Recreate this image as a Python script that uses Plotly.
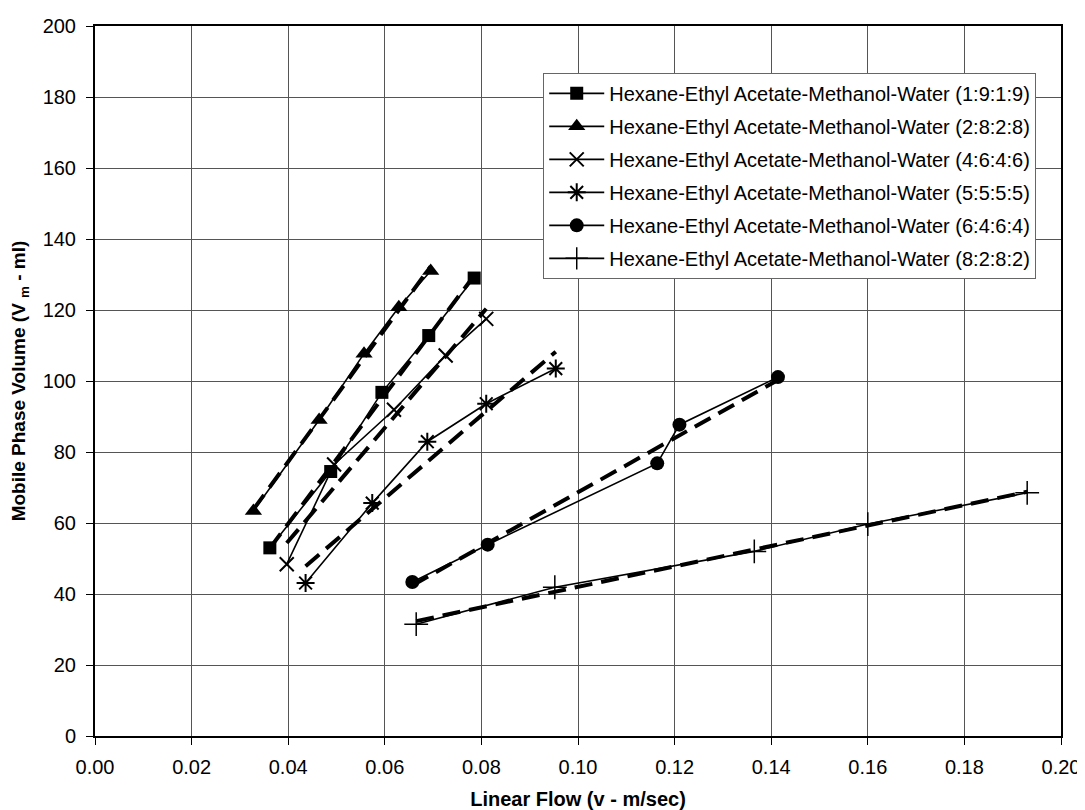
import numpy as np
import plotly.graph_objects as go

# ---- data ----
names = [
    "Hexane-Ethyl Acetate-Methanol-Water (1:9:1:9)",
    "Hexane-Ethyl Acetate-Methanol-Water (2:8:2:8)",
    "Hexane-Ethyl Acetate-Methanol-Water (4:6:4:6)",
    "Hexane-Ethyl Acetate-Methanol-Water (5:5:5:5)",
    "Hexane-Ethyl Acetate-Methanol-Water (6:4:6:4)",
    "Hexane-Ethyl Acetate-Methanol-Water (8:2:8:2)",
]
x_1919 = [0.0362, 0.0488, 0.0594, 0.0691, 0.0785]
y_1919 = [53.0, 74.5, 96.8, 112.8, 129.0]
x_2828 = [0.0328, 0.0464, 0.0557, 0.0629, 0.0695]
y_2828 = [63.4, 89.0, 107.7, 120.8, 131.0]
x_4646 = [0.0397, 0.0495, 0.0619, 0.0726, 0.0810]
y_4646 = [48.4, 76.5, 91.9, 107.2, 117.5]
x_5555 = [0.0436, 0.0574, 0.0688, 0.0810, 0.0954]
y_5555 = [43.1, 65.6, 82.9, 93.6, 103.5]
x_6464 = [0.0657, 0.0813, 0.1164, 0.1210, 0.1414]
y_6464 = [43.4, 53.9, 76.8, 87.7, 101.1]
x_8282 = [0.0665, 0.0952, 0.1365, 0.1600, 0.1930]
y_8282 = [31.5, 41.9, 52.0, 59.7, 68.5]

xs = [x_1919, x_2828, x_4646, x_5555, x_6464, x_8282]
ys = [y_1919, y_2828, y_4646, y_5555, y_6464, y_8282]

x_ticks = [0.00, 0.02, 0.04, 0.06, 0.08, 0.10, 0.12, 0.14, 0.16, 0.18, 0.20]
y_ticks = [0, 20, 40, 60, 80, 100, 120, 140, 160, 180, 200]

# ---- styles ----
markers = [
    dict(symbol="square", size=13, color="black"),
    dict(symbol="triangle-up", size=15, color="black"),
    dict(symbol="x-thin-open", size=14, color="black", line=dict(width=2, color="black")),
    dict(symbol="asterisk-open", size=15, color="black", line=dict(width=2, color="black")),
    dict(symbol="circle", size=14, color="black"),
    dict(symbol="cross-thin-open", size=17, color="black", line=dict(width=1.5, color="black")),
]

FONT = "Liberation Sans, Arial, sans-serif"
fig = go.Figure()

for i, (xv, yv) in enumerate(zip(xs, ys)):
    # linear trendline (dashed)
    a, b = np.polyfit(xv, yv, 1)
    xt = [min(xv), max(xv)]
    yt = [a * v + b for v in xt]
    fig.add_trace(go.Scatter(
        x=xt, y=yt, mode="lines", showlegend=False, hoverinfo="skip",
        line=dict(color="black", width=4, dash="18px,9px"),
    ))

for i, (xv, yv) in enumerate(zip(xs, ys)):
    fig.add_trace(go.Scatter(
        x=xv, y=yv, mode="lines+markers", name=names[i], legendgroup=f"g{i}",
        line=dict(color="black", width=1.6), marker=markers[i],
    ))

axis_common = dict(
    showline=True, mirror=True, linecolor="black", linewidth=2,
    showgrid=True, gridcolor="#555555", gridwidth=1,
    ticks="outside", ticklen=7, tickcolor="black", tickwidth=1,
    zeroline=False, automargin=False,
    tickfont=dict(family=FONT, size=20, color="black"),
)

fig.update_layout(
    width=1077, height=802,
    margin=dict(l=87, r=24, t=18, b=74, autoexpand=False),
    paper_bgcolor="white", plot_bgcolor="white",
    font=dict(family=FONT, color="black"),
    xaxis=dict(
        range=[0, 0.2], tickvals=x_ticks, tickformat=".2f", ticklabelstandoff=5,
        title=dict(text="<b>Linear Flow (v - m/sec)</b>",
                   font=dict(family=FONT, size=20, color="black"), standoff=20),
        **axis_common,
    ),
    yaxis=dict(
        range=[0, 200], tickvals=y_ticks, ticklabelstandoff=6,
        title=dict(text="<b>Mobile Phase Volume (V <sub>m</sub> - ml)</b>",
                   font=dict(family=FONT, size=19, color="black"), standoff=14),
        **axis_common,
    ),
    legend=dict(
        x=0.464, y=0.934, xanchor="left", yanchor="top",
        bgcolor="white", bordercolor="#666666", borderwidth=1,
        font=dict(family=FONT, size=20, color="black"),
        itemwidth=55, tracegroupgap=4,
    ),
    showlegend=True,
)

fig.write_html("out.html")
